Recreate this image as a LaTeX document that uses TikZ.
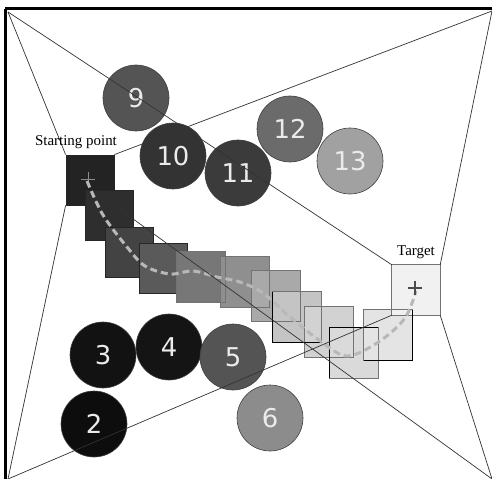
\documentclass[tikz,border=0pt]{standalone}
\usepackage{fontspec}
\setmainfont{Liberation Serif}
\newfontfamily\numfont{DejaVu Sans}
\definecolor{cA}{HTML}{232323}
\definecolor{cB}{HTML}{2E2E2E}
\definecolor{cC}{HTML}{434343}
\definecolor{cD}{HTML}{5A5A5A}
\definecolor{cE}{HTML}{777777}
\definecolor{cF}{HTML}{8F8F8F}
\definecolor{cG}{HTML}{A9A9A9}
\definecolor{cH}{HTML}{C4C4C4}
\definecolor{cI}{HTML}{D2D2D2}
\definecolor{cJ}{HTML}{DADADA}
\definecolor{cK}{HTML}{E4E4E4}
\definecolor{cT}{HTML}{F1F1F1}
\begin{document}
\begin{tikzpicture}[x=1bp,y=-1bp,
  sqfill/.style={minimum width=48bp, minimum height=50bp, inner sep=0pt, fill=#1},
  sqdark/.style={sqfill=#1, draw=black!85, line width=0.8bp},
  sqedge/.style={draw=black!55, line width=0.7bp},
  darkedge/.style={draw=black, line width=1.2bp},
  disc/.style={circle, draw=black!75, line width=0.6bp, minimum size=66bp, inner sep=0pt,
    fill=#1, text=white!92!black, font=\numfont\fontsize{26}{26}\selectfont},
  lab/.style={inner sep=0pt, font=\fontsize{15}{15}\selectfont},
  ray/.style={draw=black!80, line width=0.7bp},
  route/.style={draw=black!28, line width=3bp, dash pattern=on 7bp off 4bp, line cap=butt},
  frameline/.style={draw=black, line width=3bp}
]
\useasboundingbox (0,0) rectangle (492,479);
\fill[white] (0,0) rectangle (492,479);
% frame
\draw[frameline] (5,9) -- (492,9);
\draw[frameline] (5,9) -- (5,479);
\coordinate (TL) at (8,12);
\coordinate (TR) at (492,11);
\coordinate (BR) at (492,479);
\coordinate (BL) at (8,479);
% dark squares, drawn in order
\node[sqdark=cA] (S1) at (90,180) {};
\node[sqdark=cB] (S2) at (109,215) {};
\node[sqdark=cC] (S3) at (129,252) {};
\node[sqdark=cD] (S4) at (163,268) {};
% lighter squares: fills, then borders
\node[sqfill=cE] (S5) at (201,277) {};
\node[sqfill=cF] (S6) at (245,282) {};
\node[sqfill=cG] (S7) at (276,296) {};
\node[sqfill=cH] (S8) at (297,317) {};
\node[sqfill=cI] (S9) at (329,332) {};
\node[sqfill=cJ] (S10) at (354,353) {};
\node[sqfill=cK] (S11) at (388,335) {};
\node[sqfill=cT] (T) at (416,290) {};
\foreach \s in {S5,S6,S7,S8,S9,S10,S11,T}
  \draw[sqedge] (\s.north west) rectangle (\s.south east);
\draw[darkedge] (S8.north west) -- (S8.south west) -- (S8.south east);
\draw[darkedge] (S10.south west) -- (S10.north west) -- (S10.north east);
\draw[darkedge] (S11.north east) -- (S11.south east) -- (S11.south west);
% start cross
\coordinate (P0) at (88,179);
\coordinate (P1) at (415,288);
\draw[black!45, line width=0.8bp] ([xshift=-7bp]P0) -- ([xshift=7bp]P0) ([yshift=-7bp]P0) -- ([yshift=7bp]P0);
% route
\draw[route] plot[smooth, tension=0.55] coordinates {(87,181) (103,215) (127,247) (145,266) (170,274) (193,271) (217,277) (240,282) (263,293) (290,317) (323,343) (348,356) (380,341) (405,318) (416,291)};
% target cross
\draw[black!70, line width=1.6bp] ([xshift=-7bp]P1) -- ([xshift=7bp]P1) ([yshift=-7bp]P1) -- ([yshift=7bp]P1);
% obstacles
\node[disc=black!67] (O9) at (136,98) {9};
\node[disc=black!80] (O10) at (173,156) {10};
\node[disc=black!77] (O11) at (238,173) {11};
\node[disc=black!58] (O12) at (290,129) {12};
\node[disc=black!37] (O13) at (350,161) {13};
\node[disc=black!93] (O3) at (103,355) {3};
\node[disc=black!92] (O4) at (169,347) {4};
\node[disc=black!67] (O5) at (233,357) {5};
\node[disc=black!95] (O2) at (94,424) {2};
\node[disc=black!45] (O6) at (270,418) {6};
% rays
\draw[ray] (S1.north west) -- (TL);
\draw[ray] (S1.north east) -- (TR);
\draw[ray] (S1.south west) -- (BL);
\draw[ray] (S1.south east) -- (BR);
\draw[ray] (T.north west) -- (TL);
\draw[ray] (T.north east) -- (TR);
\draw[ray] (T.south west) -- (BL);
\draw[ray] (T.south east) -- (BR);
% labels
\node[lab] (Ls) at (76,142) {Starting point};
\node[lab] (Lt) at (416,252) {Target};
\end{tikzpicture}
\end{document}
